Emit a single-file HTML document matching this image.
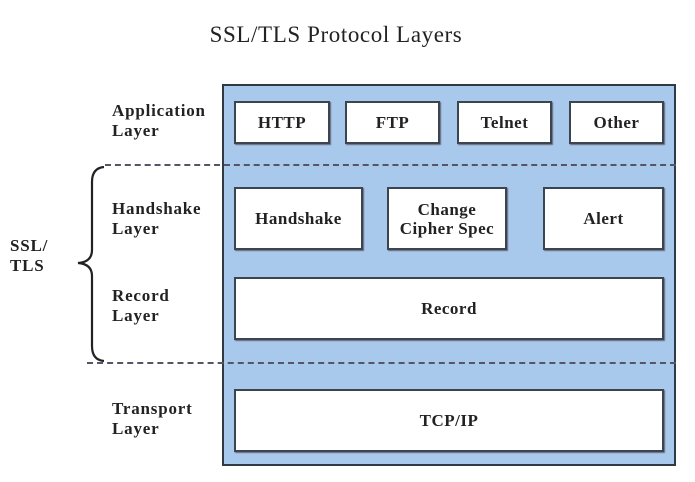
<!DOCTYPE html>
<html><head><style>
body{margin:0;width:695px;height:482px;background:#fff;position:relative;font-family:"Liberation Serif",serif;font-weight:bold;color:#222;overflow:hidden}
.a{position:absolute}
.b{position:absolute;background:#fff;border:2px solid #3a4550;box-sizing:border-box;display:flex;align-items:center;justify-content:center;text-align:center;font-size:17px;line-height:19px;letter-spacing:0.5px;box-shadow:1px 1px 1px #667}
.l{position:absolute;font-size:17px;line-height:20px;letter-spacing:0.8px}
.d{position:absolute;height:0;border-top:2px dashed #556}
</style></head><body>
<div class="a" style="left:0;width:672px;top:22px;text-align:center;font-size:23px;font-weight:normal;letter-spacing:0.6px;color:#222">SSL/TLS Protocol Layers</div>
<div class="a" style="left:222px;top:84px;width:454px;height:382px;background:#a9c9ec;border:2px solid #2f3a44;box-sizing:border-box"></div>
<div class="d" style="left:105px;width:571px;top:164px"></div>
<div class="d" style="left:87px;width:589px;top:362px"></div>
<div class="b" style="left:234px;top:101px;width:96px;height:43px">HTTP</div>
<div class="b" style="left:345px;top:101px;width:95px;height:43px">FTP</div>
<div class="b" style="left:457px;top:101px;width:95px;height:43px">Telnet</div>
<div class="b" style="left:569px;top:101px;width:95px;height:43px">Other</div>
<div class="b" style="left:234px;top:187px;width:129px;height:63px">Handshake</div>
<div class="b" style="left:387px;top:187px;width:120px;height:63px">Change<br>Cipher Spec</div>
<div class="b" style="left:543px;top:187px;width:121px;height:63px">Alert</div>
<div class="b" style="left:234px;top:277px;width:430px;height:63px">Record</div>
<div class="b" style="left:234px;top:389px;width:430px;height:63px">TCP/IP</div>
<div class="l" style="left:112px;top:101px">Application<br>Layer</div>
<div class="l" style="left:112px;top:199px">Handshake<br>Layer</div>
<div class="l" style="left:112px;top:286px">Record<br>Layer</div>
<div class="l" style="left:112px;top:399px">Transport<br>Layer</div>
<div class="l" style="left:10px;top:236px">SSL/<br>TLS</div>
<svg class="a" style="left:0;top:0" width="695" height="482"><path d="M104 167 Q92 168 92 182 L92 250 Q92 262 78 263 Q92 264 92 276 L92 346 Q92 360 104 361" fill="none" stroke="#222" stroke-width="2.2"/></svg>
</body></html>
